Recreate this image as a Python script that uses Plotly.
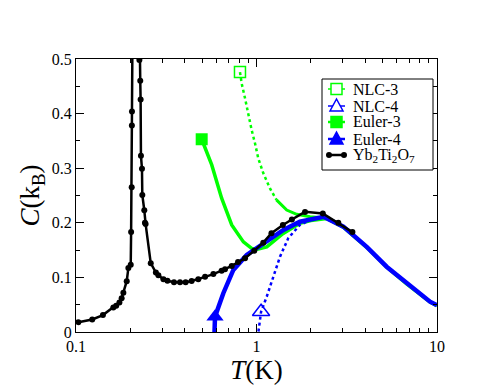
import plotly.graph_objects as go

# Yb2Ti2O7 experiment (black)
yb_T = [0.103, 0.123, 0.141, 0.161, 0.167, 0.174, 0.179, 0.183, 0.191, 0.195, 0.201, 0.202,
        0.2035, 0.204, 0.2042, 0.212, 0.2245, 0.227, 0.228, 0.229, 0.232, 0.233, 0.239, 0.241,
        0.243, 0.2595, 0.277, 0.286, 0.305, 0.321, 0.349, 0.377, 0.405, 0.437, 0.476, 0.519,
        0.577, 0.641, 0.669, 0.729, 0.79, 0.864, 0.972, 1.09, 1.21, 1.40, 1.57, 1.857, 2.33,
        2.84, 3.40]
yb_C = [0.018, 0.023, 0.031, 0.045, 0.048, 0.054, 0.062, 0.072, 0.093, 0.117, 0.123, 0.183,
        0.265, 0.378, 0.404, 1.2, 0.498, 0.460, 0.426, 0.323, 0.299, 0.251, 0.223, 0.200,
        0.198, 0.126, 0.109, 0.104, 0.0965, 0.094, 0.091, 0.091, 0.091, 0.0934, 0.0965, 0.101,
        0.106, 0.112, 0.115, 0.121, 0.128, 0.135, 0.149, 0.1636, 0.181, 0.196, 0.206, 0.220, 0.217,
        0.200, 0.183]

# Euler-3 (green solid)
e3_T = [0.497, 0.565, 0.641, 0.729, 0.846, 0.94, 1.0, 1.14, 1.4, 1.74, 2.0, 2.45, 3.03, 4.08,
        5.26, 6.79, 9.15, 10.0]
e3_C = [0.353, 0.306, 0.245, 0.196, 0.165, 0.153, 0.151, 0.156, 0.180, 0.199, 0.204, 0.208,
        0.192, 0.155, 0.119, 0.088, 0.055, 0.048]

# Euler-4 (blue solid)
e4_T = [0.584, 0.589, 0.655, 0.744, 0.883, 1.09, 1.41, 1.74, 2.35, 3.03, 4.08, 5.26, 6.79,
        9.15, 10.0]
e4_C = [-0.01, 0.028, 0.071, 0.1136, 0.141, 0.1625, 0.187, 0.202, 0.211, 0.193, 0.156, 0.1196,
        0.089, 0.0555, 0.049]

# NLC-3 (green dotted)
n3_T = [0.81, 0.828, 0.864, 0.90, 0.94, 0.981, 1.023, 1.09, 1.188, 1.29, 1.47, 1.67, 1.98, 2.4]
n3_C = [0.476, 0.455, 0.428, 0.397, 0.370, 0.3456, 0.318, 0.291, 0.263, 0.242, 0.2234, 0.2155,
        0.211, 0.209]

# NLC-4 (blue dotted)
n4_T = [1.015, 1.06, 1.14, 1.24, 1.35, 1.50, 1.74, 2.07, 2.4]
n4_C = [-0.01, 0.037, 0.065, 0.101, 0.138, 0.172, 0.196, 0.208, 0.211]

legend_names = ["NLC-3", "NLC-4", "Euler-3", "Euler-4", "Yb<sub>2</sub>Ti<sub>2</sub>O<sub>7</sub>"]

GREEN = "#00ff00"
BLUE = "#0000ff"
SERIF = "Liberation Serif, Times New Roman, DejaVu Serif, serif"

fig = go.Figure()

# curves
fig.add_trace(go.Scatter(x=n3_T[:10], y=n3_C[:10], mode="lines",
                         line=dict(color=GREEN, width=2.5, dash="dot")))
fig.add_trace(go.Scatter(x=n3_T[9:], y=n3_C[9:], mode="lines",
                         line=dict(color=GREEN, width=3)))
fig.add_trace(go.Scatter(x=e3_T, y=e3_C, mode="lines",
                         line=dict(color=GREEN, width=3.5)))
fig.add_trace(go.Scatter(x=n4_T, y=n4_C, mode="lines",
                         line=dict(color=BLUE, width=2.5, dash="dot")))
fig.add_trace(go.Scatter(x=e4_T, y=e4_C, mode="lines",
                         line=dict(color=BLUE, width=4.5)))

# end markers
fig.add_trace(go.Scatter(x=n3_T[:1], y=n3_C[:1], mode="markers",
                         marker=dict(symbol="square-open", size=11, color=GREEN, line=dict(width=1.5))))
fig.add_trace(go.Scatter(x=n4_T[1:2], y=n4_C[1:2], mode="markers",
                         marker=dict(symbol="triangle-up-open", size=15, color=BLUE, line=dict(width=1.5))))
fig.add_trace(go.Scatter(x=e3_T[:1], y=e3_C[:1], mode="markers",
                         marker=dict(symbol="square", size=12, color=GREEN)))
fig.add_trace(go.Scatter(x=e4_T[1:2], y=e4_C[1:2], mode="markers",
                         marker=dict(symbol="triangle-up", size=15, color=BLUE)))
fig.add_trace(go.Scatter(x=yb_T, y=yb_C, mode="lines+markers",
                         line=dict(color="black", width=2.5),
                         marker=dict(symbol="circle", size=6, color="black")))

axis_common = dict(showline=True, linecolor="black", linewidth=1, mirror="ticks",
                   ticks="inside", ticklen=8, tickcolor="black", showgrid=False, zeroline=False,
                   tickfont=dict(family=SERIF, size=16, color="black"))

fig.update_xaxes(type="log", range=[-1, 1], tickvals=[0.1, 1, 10], ticktext=["0.1", "1", "10"],
                 minor=dict(ticks="inside", ticklen=4, tickcolor="black",
                            tickvals=[0.2, 0.3, 0.4, 0.5, 0.6, 0.7, 0.8, 0.9,
                                      2, 3, 4, 5, 6, 7, 8, 9]),
                 title=dict(text="<i>T</i>(K)", font=dict(family=SERIF, size=27, color="black"),
                            standoff=0),
                 **axis_common)
fig.update_yaxes(range=[0, 0.5], dtick=0.1, tick0=0,
                 minor=dict(ticks="inside", ticklen=4, tickcolor="black", dtick=0.05),
                 title=dict(text="<i>C</i>(k<sub>B</sub>)", font=dict(family=SERIF, size=27, color="black"),
                            standoff=4),
                 **axis_common)

# hand-made legend (plotly's own legend rows are too tall)
PL, PR, PT, PB = 76, 437, 59, 332
def px(x):
    return (x - PL) / (PR - PL)
def py(y):
    return (PB - y) / (PB - PT)

shapes = [dict(type="rect", xref="paper", yref="paper", x0=px(322), x1=px(433), y0=py(170), y1=py(79),
               line=dict(color="black", width=1), fillcolor="white", layer="above")]
annotations = []
rows = [89, 106, 122, 139, 155]
styles = [(GREEN, "square", False), (BLUE, "triangle", False), (GREEN, "square", True),
          (BLUE, "triangle", True), ("black", "dots", True)]
for name, row, (col, sym, filled) in zip(legend_names, rows, styles):
    yy = py(row)
    shapes.append(dict(type="line", xref="paper", yref="paper", x0=px(328), x1=px(345), y0=yy, y1=yy,
                       line=dict(color=col, width=2.5 if filled else 1.5), layer="above"))
    common = dict(xref="paper", yref="paper", xsizemode="pixel", ysizemode="pixel",
                  xanchor=px(336.5), yanchor=yy, layer="above",
                  fillcolor=col if filled else "white", line=dict(color=col, width=1.5))
    if sym == "square":
        shapes.append(dict(type="rect", x0=-5.5, x1=5.5, y0=-5.5, y1=5.5, **common))
    elif sym == "triangle":
        shapes.append(dict(type="path", path="M-6.5,-5 L6.5,-5 L0,7 Z", **common))
    else:
        for cx in (329, 344):
            shapes.append(dict(type="circle", xref="paper", yref="paper", xsizemode="pixel",
                               ysizemode="pixel", xanchor=px(cx), yanchor=yy, x0=-3, x1=3, y0=-3, y1=3,
                               fillcolor="black", line=dict(color="black", width=0), layer="above"))
    annotations.append(dict(xref="paper", yref="paper", x=px(351), y=yy, xanchor="left", yanchor="middle",
                            text=name, showarrow=False,
                            font=dict(family=SERIF, size=16, color="black")))

# page body has an 8px margin, so the figure is a bit smaller than the window
fig.update_layout(
    width=483, height=384,
    margin=dict(l=68, r=54, t=51, b=60),
    plot_bgcolor="white", paper_bgcolor="white",
    font=dict(family=SERIF, color="black"),
    showlegend=False,
    shapes=shapes,
    annotations=annotations,
)

fig.write_html("out.html")
